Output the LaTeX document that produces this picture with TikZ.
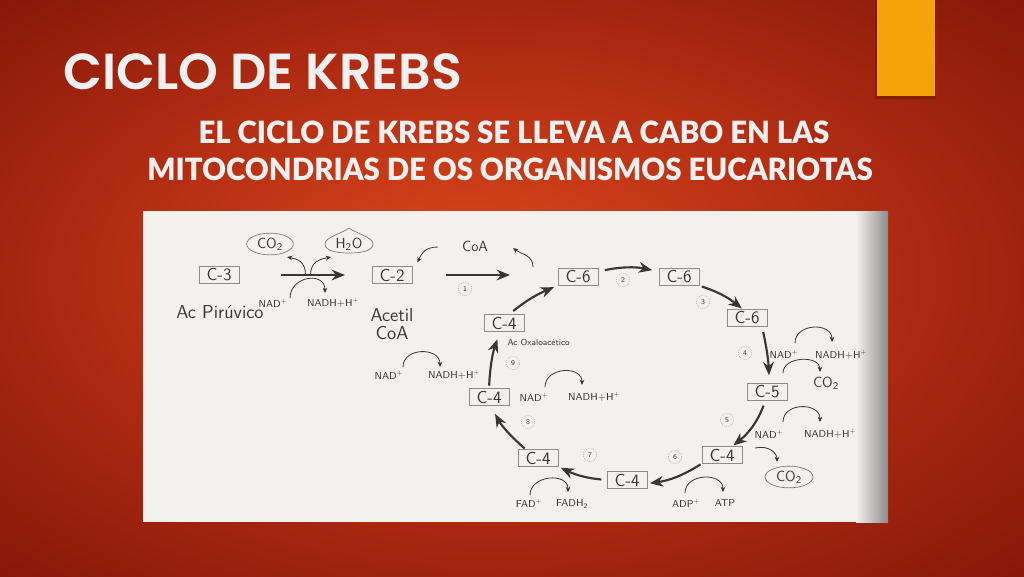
\documentclass[tikz,border=0pt]{standalone}
\usepackage{fontspec}
\usetikzlibrary{arrows.meta,calc,shapes.geometric}
\newfontfamily\titleFont[BoldFont={Poppins SemiBold}]{Poppins}
\newfontfamily\subFont[FakeStretch=0.96, BoldFont={Lato Black}]{Lato}
\definecolor{glowCore}{HTML}{D9471B}
\definecolor{glowMid}{HTML}{B32D13}
\definecolor{glowEdge}{HTML}{841708}
\definecolor{accentBar}{HTML}{F4A30B}
\definecolor{paperTone}{HTML}{F3F1EE}
\definecolor{inkTone}{HTML}{363636}
\definecolor{titleTone}{HTML}{F0F0F0}
\pgfdeclareradialshading{slideGlow}{\pgfpoint{-2.5bp}{2.5bp}}{color(0bp)=(glowCore); color(18bp)=(glowMid); color(36bp)=(glowEdge)}

\begin{document}
\begin{tikzpicture}[x=0.75pt,y=-0.75pt,
    titleText/.style={font=\titleFont\bfseries\fontsize{38}{40}\selectfont, text=titleTone, inner sep=0pt},
    subText/.style={font=\subFont\bfseries\fontsize{23}{26}\selectfont, text=titleTone, inner sep=0pt},
    carbonBox/.style={draw=black!45, line width=0.5pt, fill=paperTone, font=\sffamily\fontsize{13}{13}\selectfont, text=inkTone, minimum width=30pt, minimum height=12.5pt, inner sep=1pt},
    nameLabel/.style={font=\sffamily\fontsize{14}{14}\selectfont, text=inkTone, inner sep=1pt},
    chemLabel/.style={font=\sffamily\fontsize{7.5}{8}\selectfont, text=inkTone, inner sep=1pt},
    gasLabel/.style={font=\sffamily\fontsize{11}{11}\selectfont, text=inkTone, inner sep=1pt},
    gasBubble/.style={gasLabel, ellipse, draw=black!55, line width=0.5pt},
    stepMark/.style={circle, draw=black!35, densely dotted, line width=0.5pt, minimum size=10pt, inner sep=0pt, font=\sffamily\fontsize{5.5}{5.5}\selectfont, text=inkTone},
    cycleArrow/.style={draw=inkTone, line width=1.6pt, -{Stealth[length=10pt,width=8pt]}},
    sideArrow/.style={draw=inkTone, line width=0.6pt, -{Stealth[length=4pt,width=3.5pt]}},
    hop/.style={to path={.. controls +(0,-#1) and +(0,-#1) .. (\tikztotarget)}},
    hop/.default=20]

  \useasboundingbox (0,0) rectangle (1024,576);

  % slide background
  \shade[shading=slideGlow] (0,0) rectangle (1024,576);
  \fill[black, opacity=0.18] (875,0) rectangle (936,99);
  \fill[accentBar] (877,0) rectangle (935,96);

  % titles
  \node[titleText, anchor=base west] (title) at (63,89) {CICLO DE KREBS};
  \node[subText, anchor=base] (subA) at (514,143) {EL CICLO DE KREBS SE LLEVA A CABO EN LAS};
  \node[subText, anchor=base] (subB) at (510,180) {MITOCONDRIAS DE OS ORGANISMOS EUCARIOTAS};

  % scanned sheet
  \fill[paperTone] (143,211) rectangle (888,522);
  \shade[left color=paperTone, right color=black!45] (856,211) rectangle (888,522);

  % carbon skeletons
  \node[carbonBox] (c3) at (219,275) {C-3};
  \node[carbonBox] (c2) at (392,275) {C-2};
  \node[carbonBox] (c6a) at (578,277) {C-6};
  \node[carbonBox] (c6b) at (679,277) {C-6};
  \node[carbonBox] (c6c) at (747,318) {C-6};
  \node[carbonBox] (c5) at (767,392) {C-5};
  \node[carbonBox] (c4a) at (722,455) {C-4};
  \node[carbonBox] (c4b) at (627,480) {C-4};
  \node[carbonBox] (c4c) at (538,458) {C-4};
  \node[carbonBox] (c4d) at (489,397) {C-4};
  \node[carbonBox] (c4e) at (504,323) {C-4};

  % names
  \node[nameLabel] (pyruvic) at (220,312) {Ac Pirúvico};
  \node[nameLabel, align=center] (acetyl) at (392,324) {Acetil\\CoA};
  \node[gasLabel] (coa) at (475,246) {CoA};
  \node[chemLabel, font=\sffamily\fontsize{6.5}{6.5}\selectfont, anchor=west] (oxalo) at (506,342) {Ac Oxaloacético};

  % step numbers
  \foreach \n/\x/\y in {1/465/289, 2/623/280, 3/703/302, 4/745/353, 5/727/420,
                        6/675/457, 7/590/455, 8/528/422, 9/513/363}
    \node[stepMark] (step\n) at (\x,\y) {\n};

  % pyruvate to acetyl coa
  \node[gasBubble, minimum width=35pt, minimum height=11pt] (co2A) at (270,244) {CO\textsubscript{2}};
  \node[gasLabel] (h2o) at (349,244) {H\textsubscript{2}O};
  \draw[black!55, line width=0.5pt] ($(h2o)+(0,-16)$) .. controls +(8,6) and +(0,-7) .. ($(h2o)+(24,0)$)
    .. controls +(0,7) and +(12,0) .. ($(h2o)+(0,9)$) .. controls +(-12,0) and +(0,7) .. ($(h2o)+(-24,0)$)
    .. controls +(0,-7) and +(-8,6) .. cycle;
  \node[chemLabel] (nadA) at (273,303) {NAD\textsuperscript{+}};
  \node[chemLabel] (nadhA) at (333,303) {NADH+H\textsuperscript{+}};
  \draw[cycleArrow, shorten <=31pt, shorten >=20pt] (c3.east) -- (c2.west);
  \coordinate (fork) at ($(c3.east)!0.5!(c2.west)$);
  \draw[sideArrow] (fork) .. controls +(0,-14) and +(10,2) .. ($(co2A)+(17,13)$);
  \draw[sideArrow] ($(fork)+(5,0)$) .. controls +(0,-14) and +(-10,2) .. ($(h2o)+(-18,13)$);
  \draw[sideArrow] ($(nadA)+(17,-5)$) to[hop=22] ($(nadhA)+(-8,-10)$);

  % entry of acetyl coa
  \coordinate (cycleIn) at (510,275);
  \draw[cycleArrow, shorten <=25pt] (c2.east) -- (cycleIn);
  \draw[sideArrow] ($(coa)+(-37,1)$) .. controls +(-14,0) and +(4,-8) .. ($(c2.north east)+(5,-4)$);
  \draw[sideArrow] ($(c6a)+(-45,-10)$) .. controls +(0,-12) and +(8,6) .. ($(coa)+(38,2)$);

  % the cycle
  \draw[cycleArrow, shorten <=4pt, shorten >=3pt] (c4e.60) to[bend left=8] (c6a.south west);
  \draw[cycleArrow, shorten <=5pt, shorten >=5pt] (c6a.15) to[bend left=12] (c6b.165);
  \draw[cycleArrow, shorten <=2pt, shorten >=1pt] (c6b.south east) to[bend left=10] (c6c.115);
  \draw[cycleArrow, shorten <=4pt, shorten >=6pt] (c6c.-30) to[bend left=5] (c5.75);
  \draw[cycleArrow, shorten <=4pt, shorten >=1pt] (c5.-100) to[bend left=15] (c4a.40);
  \draw[cycleArrow, shorten <=1pt, shorten >=2pt] (c4a.south west) to[bend left=12] (c4b.-10);
  \draw[cycleArrow, shorten <=4pt, shorten >=2pt] (c4b.west) to[bend left=10] (c4c.south east);
  \draw[cycleArrow, shorten <=1pt, shorten >=7pt] (c4c.145) to[bend left=10] (c4d.-80);
  \draw[cycleArrow, shorten <=2pt, shorten >=6pt] (c4d.north) to[bend left=8] (c4e.-115);

  % side reactions
  \node[chemLabel] (nadB) at (389,375) {NAD\textsuperscript{+}};
  \node[chemLabel] (nadhB) at (454,375) {NADH+H\textsuperscript{+}};
  \draw[sideArrow] ($(nadB)+(14,-8)$) to[hop] ($(nadhB)+(-14,-8)$);

  \node[chemLabel] (nadC) at (534,397) {NAD\textsuperscript{+}};
  \node[chemLabel] (nadhC) at (594,397) {NADH+H\textsuperscript{+}};
  \draw[sideArrow] ($(nadC)+(11,-10)$) to[hop] ($(nadhC)+(-12,-12)$);

  \node[chemLabel] (nadD) at (784,354) {NAD\textsuperscript{+}};
  \node[chemLabel] (nadhD) at (841,355) {NADH+H\textsuperscript{+}};
  \draw[sideArrow] ($(nadD)+(11,-11)$) to[hop] ($(nadhD)+(-9,-13)$);
  \node[gasLabel] (co2B) at (826,383) {CO\textsubscript{2}};
  \draw[sideArrow] ($(nadD)+(-1,19)$) to[hop=17] ($(co2B)+(-6,-11)$);

  \node[chemLabel] (nadE) at (769,434) {NAD\textsuperscript{+}};
  \node[chemLabel] (nadhE) at (830,434) {NADH+H\textsuperscript{+}};
  \draw[sideArrow] ($(nadE)+(14,-12)$) to[hop] ($(nadhE)+(-10,-12)$);

  \node[gasBubble, minimum width=36pt, minimum height=15pt] (co2C) at (789,477) {CO\textsubscript{2}};
  \draw[sideArrow] ($(c4a)+(33,-7)$) .. controls +(14,-3) and +(0,-9) .. ($(co2C)+(-12,-15)$);

  \node[chemLabel] (adp) at (686,503) {ADP\textsuperscript{+}};
  \node[chemLabel] (atp) at (725,503) {ATP};
  \draw[sideArrow] ($(adp)+(-1,-10)$) to[hop] ($(atp)+(-2,-11)$);

  \node[chemLabel] (fad) at (529,503) {FAD\textsuperscript{+}};
  \node[chemLabel] (fadh) at (572,504) {FADH\textsubscript{2}};
  \draw[sideArrow] ($(fad)+(1,-8)$) to[hop] ($(fadh)+(-4,-12)$);

\end{tikzpicture}
\end{document}
